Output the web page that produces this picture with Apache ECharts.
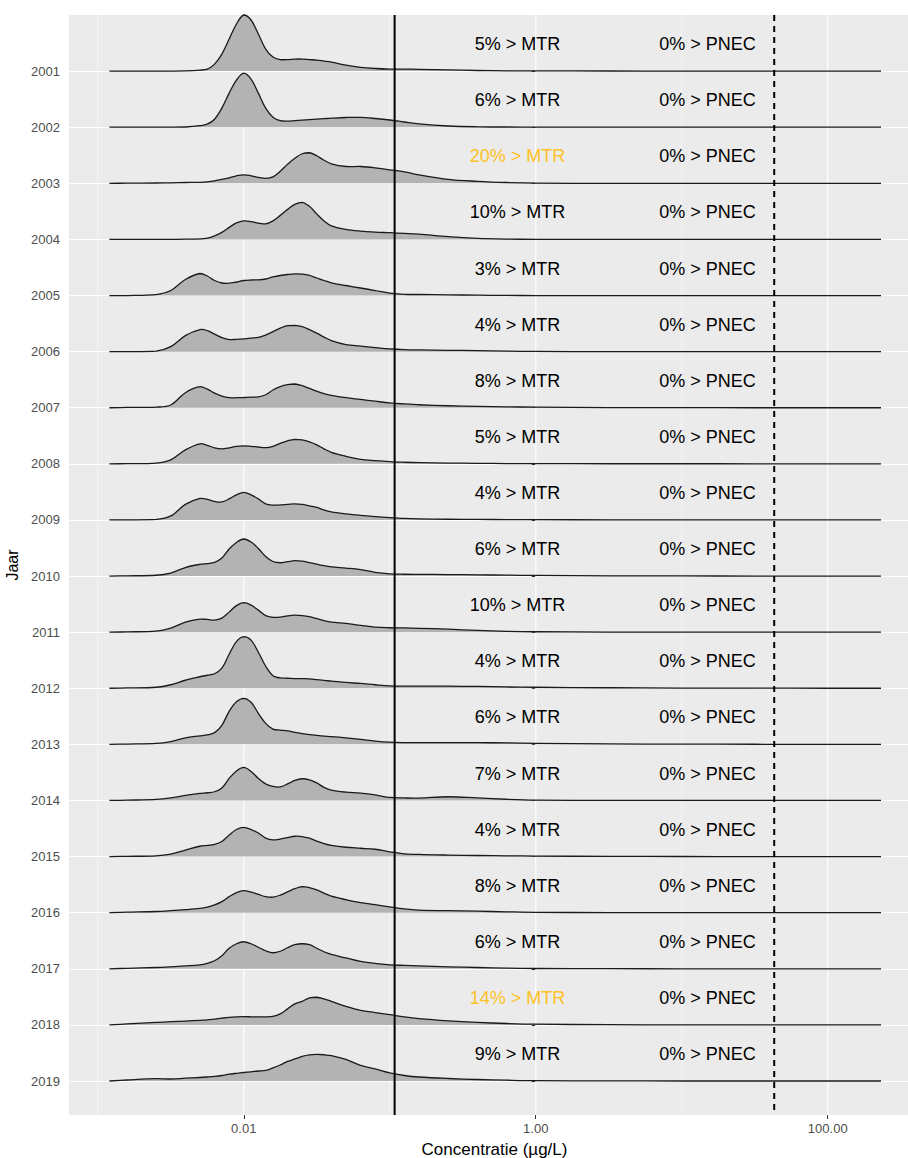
<!DOCTYPE html>
<html>
<head>
<meta charset="utf-8">
<script src="https://cdn.jsdelivr.net/npm/echarts@6/dist/echarts.min.js"></script>
<style>
  html, body { margin: 0; padding: 0; background: #ffffff; }
  #chart { width: 908px; height: 1158px; }
</style>
</head>
<body>
<div id="chart"></div>
<script>
// ---------------- DATA ----------------
const YEARS = [2001, 2002, 2003, 2004, 2005, 2006, 2007, 2008, 2009, 2010,
               2011, 2012, 2013, 2014, 2015, 2016, 2017, 2018, 2019];

// evaluation points of the density curves, log10(concentration in µg/L)
const LOG10_CONC = [-2.92, -2.8, -2.6, -2.5, -2.4, -2.3, -2.25, -2.2, -2.15, -2.1,
                    -2.05, -2.0, -1.95, -1.9, -1.85, -1.8, -1.75, -1.7, -1.65, -1.6,
                    -1.55, -1.5, -1.45, -1.4, -1.3, -1.2, -1.1, -1.0, -0.9, -0.8,
                    -0.6, -0.4, -0.2, 0, 0.5, 1, 1.5, 2, 2.365];

// relative density per year (same points as LOG10_CONC)
const D2001 = [0, 0, 0, 0, 0.2, 1, 2, 7, 17, 32, 47, 56, 51, 37, 22, 14, 11.5, 11.5, 12, 12, 11.5, 11, 10, 9, 6, 3.8, 2.6, 2, 2, 1.8, 1.2, 0.6, 0.3, 0.2, 0.1, 0.05, 0.02, 0.01, 0];
const D2002 = [0, 0, 0, 0, 0.2, 1.5, 3, 8, 19, 34, 47, 54, 48, 34, 19, 10, 6.5, 6, 6.5, 7, 7.5, 8, 8.5, 9, 9.7, 9.8, 8.7, 7.2, 5.2, 3.3, 1.2, 0.4, 0.2, 0.1, 0.05, 0.02, 0.01, 0, 0];
const D2003 = [0, 0.1, 0.3, 0.5, 0.8, 1, 1.5, 2.5, 4, 5.5, 7.5, 8.5, 7.5, 6, 5, 6.5, 12, 19, 25, 29.5, 30.5, 27.5, 23, 19.5, 16.8, 16.8, 15.5, 13.5, 11.5, 8.5, 4, 2, 0.8, 0.2, 0, 0, 0, 0, 0];
const D2004 = [0, 0, 0, 0, 0.2, 0.5, 1.2, 3.5, 7, 12, 16.5, 18.5, 17.8, 16.3, 15.5, 18.5, 24, 30, 35, 37, 33, 25.5, 18.5, 13.5, 10, 8.3, 7.3, 6.7, 6, 5.2, 2.7, 1, 0.3, 0.1, 0, 0, 0, 0, 0];
const D2005 = [0, 0, 1, 5, 16, 22, 19.5, 15, 12.5, 12.3, 13.5, 15, 15.5, 15.7, 16.5, 18.5, 20, 21, 21.7, 21.3, 20, 17.5, 15, 12.7, 10, 7.5, 5, 2.5, 1.2, 1, 0.7, 0.4, 0.1, 0, 0, 0, 0, 0, 0];
const D2006 = [0, 0, 0.5, 5, 16, 22, 21, 17.5, 14, 12, 12.3, 12.8, 13.5, 14.3, 16.5, 20, 23.5, 26, 26.3, 25, 22, 18.5, 14.5, 11, 7, 5.5, 4, 2.7, 2, 1.7, 1.3, 1, 0.5, 0.2, 0, 0, 0, 0, 0];
const D2007 = [0, 0.3, 0.6, 2.7, 15, 21, 18.5, 14.5, 11.5, 10, 10, 10.2, 10.5, 10.8, 13, 17.7, 21, 23, 23.7, 22, 19.3, 16.5, 14, 12.3, 10, 8.3, 6.5, 4.8, 3.8, 3, 2, 1.3, 0.9, 0.6, 0.2, 0.05, 0, 0, 0];
const D2008 = [0, 0.2, 0.8, 4, 14, 20, 18.5, 16, 15, 16, 17.5, 18, 17.5, 16.8, 16.2, 17.5, 20.5, 23, 24.5, 24, 22, 19, 15, 11.5, 7.5, 4.5, 3.2, 2.2, 1.6, 1.2, 0.8, 0.5, 0.3, 0.2, 0.1, 0.1, 0.05, 0.05, 0];
const D2009 = [0, 0.1, 0.5, 4, 15.5, 21.5, 20.5, 18.5, 18, 21, 25, 27.5, 25, 21, 16, 14.8, 15, 15.5, 16, 15.5, 14, 12.5, 10, 8, 6, 4.5, 3.3, 2.3, 1.5, 1.1, 0.7, 0.5, 0.4, 0.3, 0.1, 0.05, 0, 0, 0];
const D2010 = [0, 0.2, 0.8, 3, 8.5, 11.7, 12.5, 13.7, 18, 27, 33.5, 37, 34, 27.5, 19.5, 14.5, 13.3, 14.3, 15.3, 14.8, 13.3, 11.8, 10.3, 9.2, 8, 6.5, 3.7, 2.2, 1.8, 1.7, 1.5, 1.2, 0.9, 0.6, 0.2, 0.1, 0, 0, 0];
const D2011 = [0, 0.3, 1, 4, 10, 13, 12.7, 12, 14, 20, 26.5, 29.4, 27, 22, 16.5, 14.8, 15, 16.3, 17, 16.5, 15.4, 13.5, 11.5, 10, 8.7, 6.8, 5, 4.4, 4.2, 3.8, 3, 1.7, 0.8, 0.4, 0.1, 0, 0, 0, 0];
const D2012 = [0, 0.3, 1, 3.5, 8, 11.5, 13, 14.5, 20, 34, 46.5, 51.5, 48, 36, 22, 12.5, 10.3, 10, 9.7, 9.6, 9.4, 8.6, 7.8, 7.2, 5.8, 4.8, 3.5, 2.4, 2.2, 2.2, 2.1, 1.8, 1.3, 1, 0.5, 0.2, 0.1, 0, 0];
const D2013 = [0, 0.3, 1, 2.8, 6.5, 8.5, 9.5, 11.7, 19, 33, 42.5, 46, 42, 31, 21, 15.3, 14.2, 13.5, 12, 10.8, 9.8, 9, 8.3, 7.8, 6.5, 5, 3.3, 2.2, 1.8, 1.7, 1.7, 1.7, 1.5, 1, 0.4, 0.2, 0.1, 0, 0];
const D2014 = [0, 0.3, 1, 2.5, 5, 7, 7.7, 8.7, 12.5, 22, 29.5, 33, 29, 22, 16.5, 14, 13.5, 16.5, 20, 21.7, 20.5, 17.5, 13, 10.3, 8.3, 7.3, 5.5, 3, 2.5, 2.4, 3.7, 2.5, 1.2, 0.4, 0.1, 0, 0, 0, 0];
const D2015 = [0, 0.2, 0.8, 2.5, 6.5, 10.3, 11.2, 12.2, 15, 21.5, 27, 29.2, 27, 23.5, 18.5, 16.7, 17.5, 19, 20.3, 20, 18.3, 15.5, 13, 11.2, 9.3, 8.3, 7.3, 4.8, 2.8, 2.1, 1.5, 1.1, 0.8, 0.5, 0.2, 0.1, 0, 0, 0];
const D2016 = [0, 0.5, 1.2, 2, 3, 4.3, 5.5, 7.7, 11, 16, 20, 22, 20.5, 18.3, 16, 15.5, 17.5, 20.8, 24, 26, 25, 22.7, 19.5, 16.5, 13, 10, 8, 5.8, 3.8, 2.6, 2, 1.5, 0.9, 0.4, 0.1, 0, 0, 0, 0];
const D2017 = [0, 0.5, 1.3, 2, 2.9, 4, 5.5, 8, 13, 20.5, 25, 27, 25, 21.5, 18, 16, 17.5, 21, 24, 25, 24, 20.5, 17, 14.3, 10.8, 7.3, 5.5, 4, 3.4, 3, 2, 1.3, 0.7, 0.3, 0.1, 0, 0, 0, 0];
const D2018 = [0, 1, 2.5, 3.2, 3.8, 4.6, 5, 5.8, 6.7, 7.5, 8, 8.2, 8.1, 8, 8, 8.5, 11, 16, 21, 23.5, 27, 27.6, 26, 23.5, 18.5, 14.5, 12.3, 10.2, 8, 6.3, 4.1, 2.5, 1.4, 0.7, 0.2, 0.05, 0, 0, 0];
const D2019 = [0, 1, 2.3, 2, 2.8, 3.5, 4, 4.6, 5.5, 6.8, 7.7, 8.5, 9.2, 10, 10.5, 13, 16, 19.5, 22, 24.5, 26, 26.5, 26.2, 25.3, 21.5, 15.5, 12, 8, 5.5, 4, 2.5, 1.5, 0.8, 0.3, 0.1, 0, 0, 0, 0];

const MTR_PCT  = [5, 6, 20, 10, 3, 4, 8, 5, 4, 6, 10, 4, 6, 7, 4, 8, 6, 14, 9];
const PNEC_PCT = [0, 0, 0, 0, 0, 0, 0, 0, 0, 0, 0, 0, 0, 0, 0, 0, 0, 0, 0];

const MTR = 0.108;   // µg/L, solid line
const PNEC = 43;     // µg/L, dashed line
const MTR_LABEL_AT = 0.75;   // µg/L, where the MTR text sits
const PNEC_LABEL_AT = 15;    // µg/L, where the PNEC text sits

const X_TICK_VALUES = [0.01, 1, 100];
const X_TICK_LABELS = ['0.01', '1.00', '100.00'];
const X_MINOR_VALUES = [0.001, 0.1, 10];

// ---------------- BUILD ----------------
const DENS = [D2001, D2002, D2003, D2004, D2005, D2006, D2007, D2008, D2009, D2010,
              D2011, D2012, D2013, D2014, D2015, D2016, D2017, D2018, D2019];
const densMax = Math.max.apply(null, DENS.map(d => Math.max.apply(null, d)));
const RIDGE_SCALE = 1.0;  // tallest ridge = one row

const X_MIN = -3.197, X_MAX = 2.632;
const Y_MIN = 2000, Y_MAX = 2019.606;
const FONT = '"Liberation Sans", Arial, Helvetica, sans-serif';

const chart = echarts.init(document.getElementById('chart'), null, { renderer: 'svg' });

function vline(api, x) {
  const a = api.coord([x, Y_MIN]);
  const b = api.coord([x, Y_MAX]);
  return { x1: a[0], y1: a[1], x2: b[0], y2: b[1] };
}

const gridLineData = X_TICK_VALUES.map(v => [Math.log10(v), 2010, 1])
  .concat(X_MINOR_VALUES.map(v => [Math.log10(v), 2010, 0]));

const option = {
  backgroundColor: '#ffffff',
  animation: false,
  grid: {
    left: 69, right: -12, top: 15, bottom: 43,
    containLabel: false,
    outerBoundsMode: 'none',
    show: true, backgroundColor: '#EBEBEB', borderWidth: 0
  },
  xAxis: {
    type: 'value', min: X_MIN, max: X_MAX,
    name: 'Concentratie (µg/L)', nameLocation: 'middle', nameGap: 26,
    nameTextStyle: { fontSize: 17, color: '#000000', fontFamily: FONT },
    axisLine: { show: false },
    splitLine: { show: false },
    axisTick: { show: true, length: 4, lineStyle: { color: '#333333', width: 1 },
                customValues: X_TICK_VALUES.map(v => Math.log10(v)) },
    axisLabel: {
      show: true, margin: 7, fontSize: 13, color: '#4D4D4D', fontFamily: FONT,
      customValues: X_TICK_VALUES.map(v => Math.log10(v)),
      formatter: function (val) {
        for (let i = 0; i < X_TICK_VALUES.length; i++) {
          if (Math.abs(Math.log10(X_TICK_VALUES[i]) - val) < 1e-6) return X_TICK_LABELS[i];
        }
        return '';
      }
    }
  },
  yAxis: {
    type: 'value', inverse: true, min: Y_MIN, max: Y_MAX, interval: 1,
    name: 'Jaar', nameLocation: 'middle', nameGap: 47, nameRotate: 90,
    nameTextStyle: { fontSize: 16, color: '#000000', fontFamily: FONT },
    axisLine: { show: false },
    splitLine: { show: true, lineStyle: { color: '#FFFFFF', width: 1.2 } },
    axisTick: { show: true, length: 4, lineStyle: { color: '#333333', width: 1 },
                customValues: YEARS },
    axisLabel: {
      show: true, margin: 9, fontSize: 13, color: '#4D4D4D', fontFamily: FONT,
      customValues: YEARS,
      formatter: function (v) { return String(v); }
    }
  },
  series: [
    // vertical grid lines (major + minor)
    {
      type: 'custom', coordinateSystem: 'cartesian2d', silent: true, z: 1,
      data: gridLineData,
      renderItem: function (params, api) {
        const major = api.value(2) === 1;
        return {
          type: 'line',
          shape: vline(api, api.value(0)),
          style: { stroke: '#FFFFFF', lineWidth: major ? 1.2 : 0.6 }
        };
      }
    },
    // ridges
    {
      type: 'custom', coordinateSystem: 'cartesian2d', silent: true, z: 3,
      data: YEARS.map((y, i) => [LOG10_CONC[0], y, i]),
      renderItem: function (params, api) {
        const i = params.dataIndex;
        const year = YEARS[i];
        const d = DENS[i];
        const pts = LOG10_CONC.map((lx, j) => api.coord([lx, year - RIDGE_SCALE * d[j] / densMax]));
        let minP = [Infinity, Infinity], maxP = [-Infinity, -Infinity];
        pts.forEach(p => {
          minP = [Math.min(minP[0], p[0]), Math.min(minP[1], p[1])];
          maxP = [Math.max(maxP[0], p[0]), Math.max(maxP[1], p[1])];
        });
        const cons = [minP, maxP];
        return {
          type: 'group',
          children: [
            { type: 'polygon', shape: { points: pts, smooth: 0.35, smoothConstraint: cons },
              style: { fill: '#B3B3B3', stroke: null } },
            { type: 'polyline', shape: { points: pts, smooth: 0.35, smoothConstraint: cons },
              style: { fill: null, stroke: '#1A1A1A', lineWidth: 1.3 } }
          ]
        };
      }
    },
    // MTR and PNEC reference lines
    {
      type: 'custom', coordinateSystem: 'cartesian2d', silent: true, z: 5,
      data: [[Math.log10(MTR), 2010, 0], [Math.log10(PNEC), 2010, 1]],
      renderItem: function (params, api) {
        const dashed = api.value(2) === 1;
        return {
          type: 'line',
          shape: vline(api, api.value(0)),
          style: { stroke: '#000000', lineWidth: 2, lineDash: dashed ? [6, 5] : null }
        };
      }
    },
    // percentage labels
    {
      type: 'custom', coordinateSystem: 'cartesian2d', silent: true, z: 6,
      data: YEARS.map((y, i) => [Math.log10(MTR_LABEL_AT), y - 0.48, i, 0])
        .concat(YEARS.map((y, i) => [Math.log10(PNEC_LABEL_AT), y - 0.48, i, 1])),
      renderItem: function (params, api) {
        const i = api.value(2);
        const isPnec = api.value(3) === 1;
        const p = api.coord([api.value(0), api.value(1)]);
        const pct = isPnec ? PNEC_PCT[i] : MTR_PCT[i];
        const text = pct + '% > ' + (isPnec ? 'PNEC' : 'MTR');
        const color = (!isPnec && pct > 10) ? '#FFC125' : '#000000';
        return {
          type: 'text', x: p[0], y: p[1],
          style: { text: text, fill: color, font: '18px ' + FONT,
                   align: 'center', verticalAlign: 'middle' }
        };
      }
    }
  ]
};

chart.setOption(option);
</script>
</body>
</html>
